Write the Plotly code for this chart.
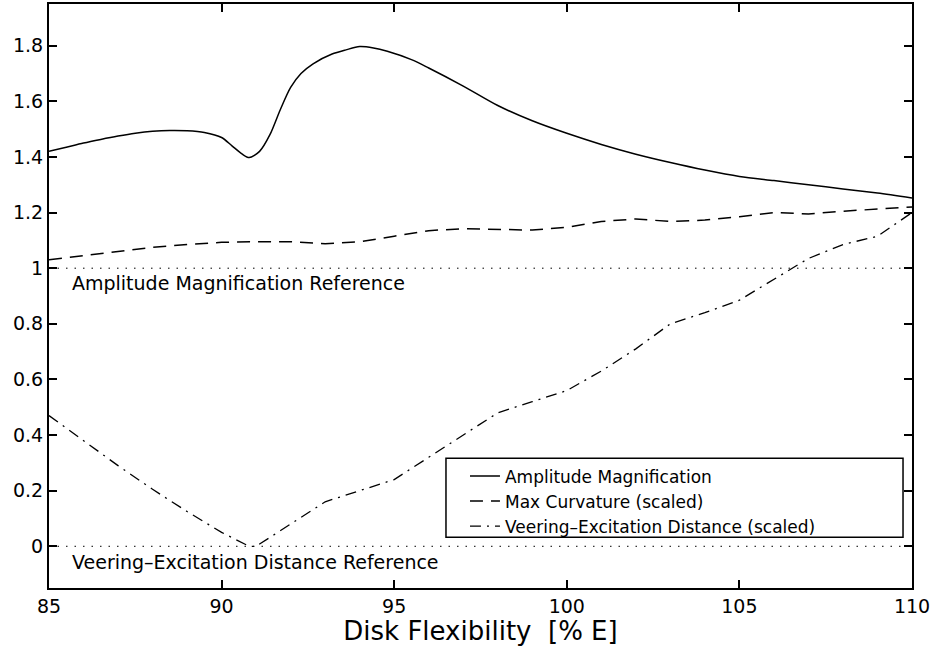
import plotly.graph_objects as go

# ---- data ----
amp_x = [85, 85.5, 86, 86.5, 87, 87.5, 88, 88.5, 89, 89.5, 90, 90.3, 90.6, 90.8, 91.1, 91.4,
         91.7, 92.0, 92.3, 92.65, 93.2, 93.6, 94.0, 94.4, 94.8, 95.5, 96, 97, 98, 99, 100,
         101, 102, 103, 104, 105, 106, 107, 108, 109, 110]
amp_y = [1.42, 1.435, 1.45, 1.463, 1.475, 1.485, 1.492, 1.495, 1.494, 1.488, 1.47, 1.44, 1.41,
         1.398, 1.42, 1.48, 1.57, 1.65, 1.70, 1.735, 1.77, 1.785, 1.797, 1.792, 1.78, 1.75,
         1.72, 1.655, 1.585, 1.53, 1.485, 1.445, 1.41, 1.38, 1.353, 1.33, 1.315, 1.30, 1.285,
         1.27, 1.252]

curv_x = list(range(85, 111))
curv_y = [1.03, 1.045, 1.06, 1.075, 1.085, 1.093, 1.095, 1.095, 1.088, 1.095, 1.115, 1.135,
          1.142, 1.14, 1.137, 1.147, 1.168, 1.177, 1.168, 1.173, 1.185, 1.2, 1.195, 1.205,
          1.213, 1.22]

veer_x = [85, 86, 87, 88, 89, 90, 90.8, 91, 91.5, 92, 92.5, 93, 93.5, 94, 95, 96, 97, 98, 99,
          100, 101, 102, 103, 104, 105, 106, 107, 108, 109, 110]
veer_y = [0.47, 0.38, 0.29, 0.205, 0.125, 0.05, 0.0, 0.0, 0.04, 0.08, 0.12, 0.16, 0.18, 0.20,
          0.24, 0.32, 0.40, 0.48, 0.52, 0.56, 0.63, 0.71, 0.80, 0.84, 0.885, 0.96, 1.035,
          1.085, 1.115, 1.20]

ref_x = [85, 110]
amp_ref = [1, 1]
veer_ref = [0, 0]

x_ticks = [85, 90, 95, 100, 105, 110]
y_ticks = [0, 0.2, 0.4, 0.6, 0.8, 1, 1.2, 1.4, 1.6, 1.8]

FONT = "DejaVu Sans"
fig = go.Figure()

fig.add_trace(go.Scatter(x=ref_x, y=amp_ref, mode="lines", showlegend=False,
                         line=dict(color="black", width=1, dash="1.5px,7px")))
fig.add_trace(go.Scatter(x=ref_x, y=veer_ref, mode="lines", showlegend=False,
                         line=dict(color="black", width=1, dash="1.5px,7px")))

fig.add_trace(go.Scatter(x=amp_x, y=amp_y, mode="lines", name="Amplitude Magnification",
                         line=dict(color="black", width=1.5, shape="spline", smoothing=0.8)))
fig.add_trace(go.Scatter(x=curv_x, y=curv_y, mode="lines", name="Max Curvature (scaled)",
                         line=dict(color="black", width=1.5, dash="13px,8px")))
fig.add_trace(go.Scatter(x=veer_x, y=veer_y, mode="lines",
                         name="Veering\u2013Excitation Distance (scaled)",
                         line=dict(color="black", width=1.3, dash="11px,6px,2px,6px")))

fig.add_annotation(x=85.62, y=0.948, xref="x", yref="y", text="Amplitude Magnification Reference",
                   showarrow=False, xanchor="left", yanchor="middle",
                   font=dict(family=FONT, size=19, color="black"))
fig.add_annotation(x=85.62, y=-0.058, xref="x", yref="y",
                   text="Veering\u2013Excitation Distance Reference",
                   showarrow=False, xanchor="left", yanchor="middle",
                   font=dict(family=FONT, size=19, color="black"))

# legend box
fig.add_shape(type="rect", xref="paper", yref="paper", x0=0.46, x1=0.9896, y0=0.087, y1=0.222,
              line=dict(color="black", width=1.5), fillcolor="white", layer="above")

axis_common = dict(showline=True, linecolor="black", linewidth=2, mirror="allticks",
                   ticks="inside", ticklen=8, tickwidth=1.5, tickcolor="black",
                   showgrid=False, zeroline=False,
                   tickfont=dict(family=FONT, size=19, color="black"))

fig.update_xaxes(range=[85, 110], tickvals=x_ticks,
                 title=dict(text="Disk Flexibility  [% E]", standoff=6,
                            font=dict(family=FONT, size=26, color="black")),
                 **axis_common)
fig.update_yaxes(range=[-0.15, 1.95], tickvals=y_ticks, **axis_common)

fig.update_layout(
    width=935, height=646,
    margin=dict(l=49, r=23, t=4, b=58, autoexpand=False),
    paper_bgcolor="white", plot_bgcolor="white",
    font=dict(family=FONT, size=19, color="black"),
    legend=dict(x=0.482, y=0.222, xanchor="left", yanchor="top",
                bgcolor="rgba(0,0,0,0)", borderwidth=0,
                font=dict(family=FONT, size=17, color="black"),
                tracegroupgap=0, itemwidth=30),
)

fig.write_html("out.html")
